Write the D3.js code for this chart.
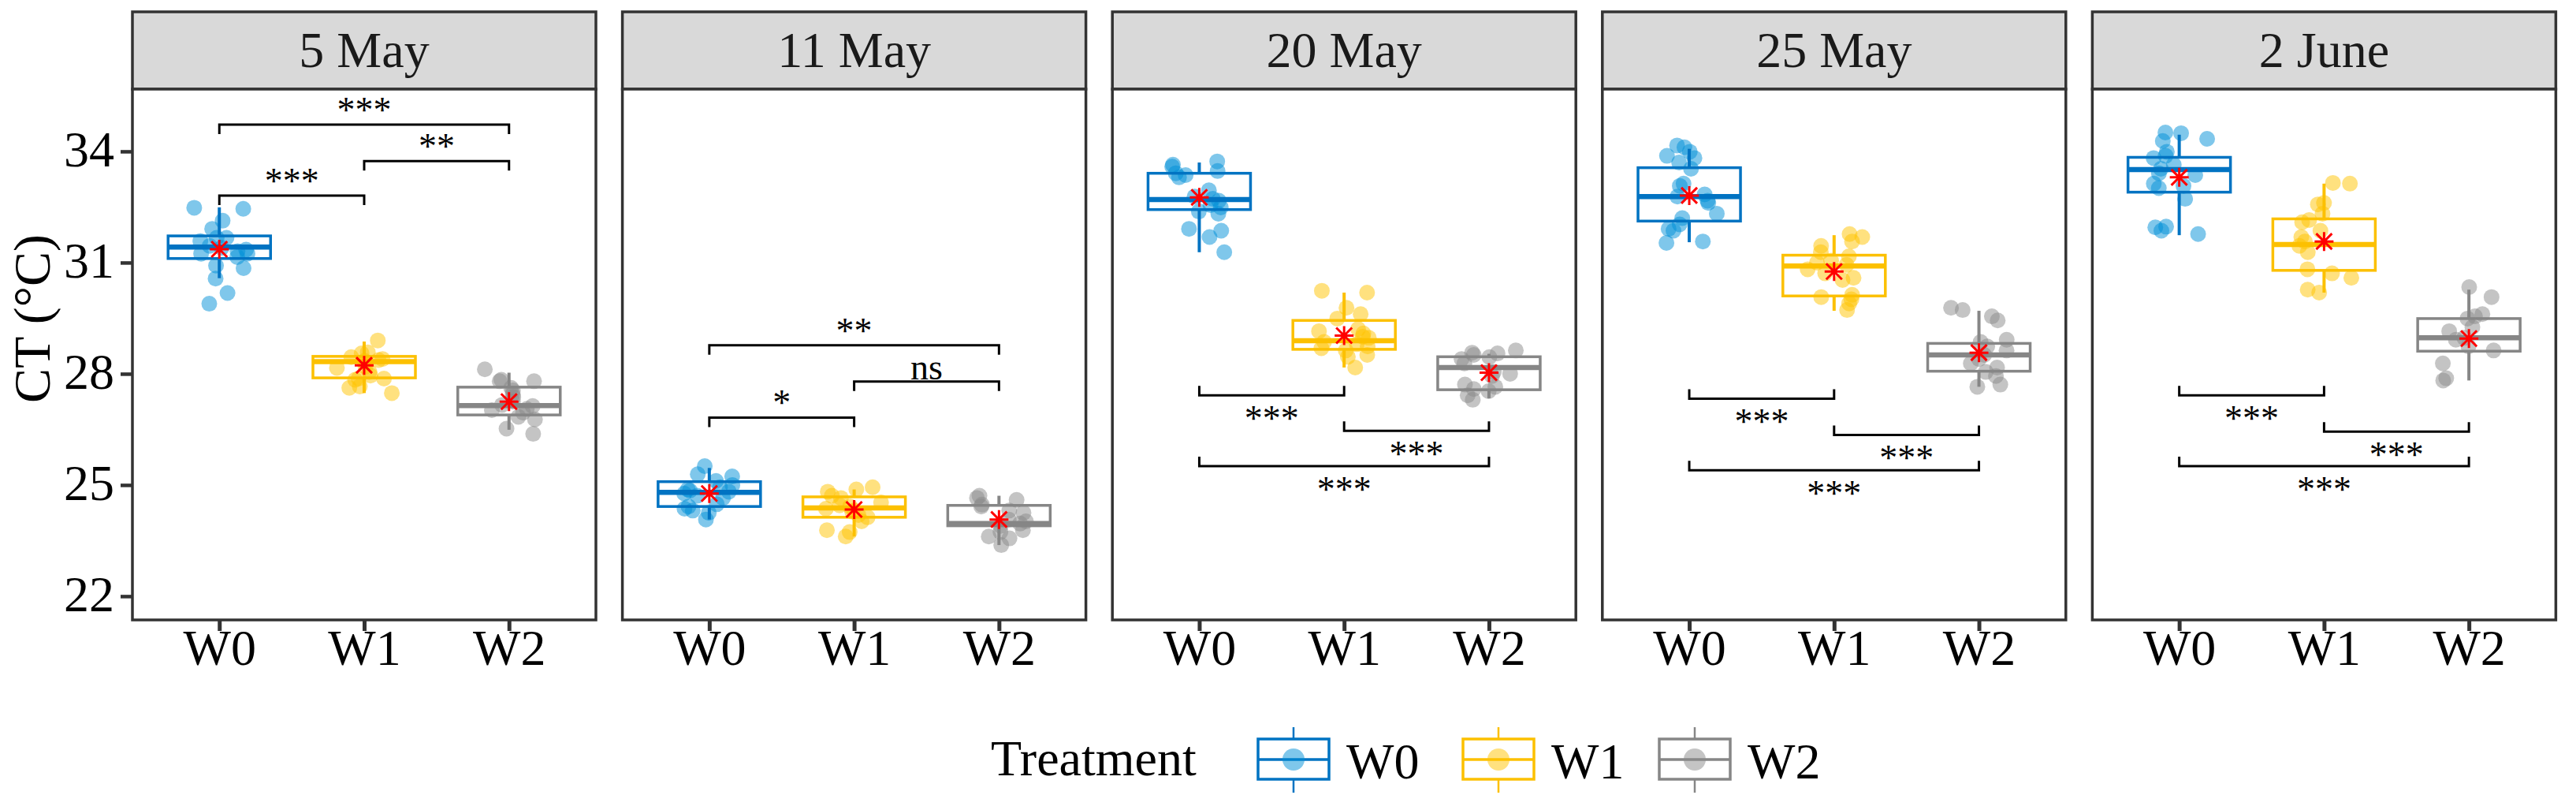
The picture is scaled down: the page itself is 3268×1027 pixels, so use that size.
<!DOCTYPE html>
<html><head><meta charset="utf-8">
<script src="https://cdn.jsdelivr.net/npm/d3@7"></script>
<style>
body{margin:0;background:#fff}
svg{display:block}
text{font-family:"Liberation Serif","Times New Roman",Times,serif}
</style>
</head><body>
<svg id="chart" width="3268" height="1027"></svg>
<script>
// ---------------- data ----------------
const dates = ["5 May", "11 May", "20 May", "25 May", "2 June"];
const treatments = ["W0", "W1", "W2"];
const yTicks = [22, 25, 28, 31, 34];
const yTitle = "CT (°C)";
const legendTitle = "Treatment";

// box stats per date: [lower whisker, Q1, median, Q3, upper whisker]
const boxW0 = [[30.58,31.11,31.42,31.72,32.49],[24.07,24.42,24.80,25.09,25.46],[31.28,32.43,32.70,33.41,33.70],[31.55,32.12,32.78,33.56,34.07],[31.74,32.90,33.51,33.84,34.45]];
const boxW1 = [[27.48,27.89,28.33,28.47,28.87],[23.61,24.13,24.38,24.68,24.88],[28.17,28.66,28.89,29.44,30.19],[29.70,30.10,30.91,31.20,31.74],[30.19,30.79,31.49,32.18,33.13]];
const boxW2 = [[26.49,26.89,27.14,27.64,28.03],[23.38,23.90,23.96,24.45,24.71],[27.34,27.57,28.17,28.46,28.54],[27.65,28.07,28.51,28.82,29.70],[27.82,28.61,28.97,29.49,30.27]];

// group means per date
const meanW0 = [31.36, 24.77, 32.76, 32.81, 33.30];
const meanW1 = [28.23, 24.34, 29.03, 30.76, 31.57];
const meanW2 = [27.25, 24.07, 28.03, 28.57, 28.95];

// individual observations per date
const pointsW0 = [
  [32.45,32.48,32.13,31.91,31.67,31.67,31.58,31.45,31.40,31.35,31.31,31.24,31.24,31.15,30.92,30.85,30.57,30.18,29.89],
  [25.51,25.29,25.23,25.11,25.00,24.94,24.88,24.82,24.77,24.71,24.65,24.48,24.42,24.36,24.31,24.25,24.07,24.85],
  [33.73,33.64,33.59,33.47,33.41,33.36,33.30,32.95,32.78,32.72,32.67,32.55,32.49,32.38,32.32,31.91,31.86,31.69,31.28],
  [34.16,34.11,33.99,33.88,33.82,33.70,33.53,33.13,33.07,32.84,32.78,32.67,32.61,32.32,32.20,32.03,31.91,31.86,31.57,31.53],
  [34.51,34.49,34.34,34.28,33.99,33.88,33.82,33.64,33.53,33.41,33.36,33.13,33.07,33.01,32.72,31.97,31.95,31.86,31.77]
];
const pointsW1 = [
  [28.90,28.58,28.55,28.45,28.40,28.37,28.35,28.30,28.19,28.16,28.05,27.95,27.87,27.87,27.84,27.66,27.62,27.48],
  [24.94,24.88,24.82,24.71,24.65,24.53,24.42,24.36,24.31,24.19,24.13,24.02,23.78,23.73,23.61,24.45,24.28],
  [30.24,30.19,29.78,29.61,29.49,29.21,29.15,29.09,28.97,28.86,28.74,28.69,28.63,28.51,28.46,28.17,29.00,28.80],
  [31.77,31.69,31.57,31.45,31.28,31.17,31.05,30.94,30.82,30.71,30.59,30.53,30.13,30.07,30.01,29.90,29.72,31.00],
  [33.15,33.13,32.61,32.57,32.32,32.15,32.09,31.86,31.69,31.57,31.45,31.28,30.82,30.71,30.59,30.27,30.19]
];
const pointsW2 = [
  [28.12,27.84,27.80,27.80,27.62,27.55,27.45,27.37,27.25,27.16,27.13,27.05,27.02,26.95,26.84,26.77,26.52,26.38],
  [24.71,24.65,24.60,24.47,24.42,24.31,24.25,24.07,24.02,23.96,23.90,23.78,23.73,23.61,23.56,23.38],
  [28.63,28.57,28.51,28.40,28.28,28.05,28.00,27.94,27.71,27.65,27.59,27.53,27.42,27.30,28.55,28.45],
  [29.78,29.72,29.55,29.44,28.92,28.86,28.74,28.63,28.51,28.40,28.28,28.17,28.05,27.94,27.71,27.65],
  [30.34,30.07,29.61,29.55,29.49,29.26,29.15,28.97,28.92,28.74,28.63,28.28,27.88,27.82]
];

// significance brackets: [panel, fromGroup, toGroup, y value, label, side(1 above / -1 below)]
const signif = [
  [0,"W0","W1",32.81,"***",1],[0,"W1","W2",33.74,"**",1],[0,"W0","W2",34.72,"***",1],
  [1,"W0","W2",28.77,"**",1],[1,"W1","W2",27.79,"ns",1],[1,"W0","W1",26.82,"*",1],
  [2,"W0","W1",27.42,"***",-1],[2,"W1","W2",26.46,"***",-1],[2,"W0","W2",25.51,"***",-1],
  [3,"W0","W1",27.33,"***",-1],[3,"W1","W2",26.35,"***",-1],[3,"W0","W2",25.40,"***",-1],
  [4,"W0","W1",27.42,"***",-1],[4,"W1","W2",26.44,"***",-1],[4,"W0","W2",25.51,"***",-1]
];

// ---------------- layout / style ----------------
const boxes = {W0: boxW0, W1: boxW1, W2: boxW2};
const means = {W0: meanW0, W1: meanW1, W2: meanW2};
const points = {W0: pointsW0, W1: pointsW1, W2: pointsW2};
const lineCol = {W0: "#0073C2", W1: "#FCC000", W2: "#868686"};
const ptCol = {W0: "#0090D8", W1: "#FFC400", W2: "#8A8A8A"};

const panelLeft0 = 168, panelStep = 621.6, panelW = 588;
const stripTop = 15, panelTop = 113, panelBottom = 786;
const border = "#333333";

const svg = d3.select("#chart");
const y = d3.scaleLinear().domain([21.36, 35.68]).range([panelBottom, panelTop]);
const x = d3.scalePoint().domain(treatments).range([0, panelW]).padding(0.6);

function jitter(i, k) {
  const v = Math.sin((i + 1) * 12.9898 + k * 78.233) * 43758.5453;
  return (v - Math.floor(v)) - 0.5;
}

function asterisk(g, cx, cy, color) {
  const a = 12, d = 10;
  g.append("path")
    .attr("d", `M${cx},${cy-a}L${cx},${cy+a}M${cx-a},${cy}L${cx+a},${cy}M${cx-d},${cy-d}L${cx+d},${cy+d}M${cx-d},${cy+d}L${cx+d},${cy-d}`)
    .attr("stroke", color).attr("stroke-width", 3).attr("fill", "none");
}

dates.forEach((date, pi) => {
  const left = panelLeft0 + pi * panelStep;
  const g = svg.append("g").attr("transform", `translate(${left},0)`);

  // strip
  g.append("rect").attr("x", 0).attr("y", stripTop).attr("width", panelW).attr("height", panelTop - stripTop)
    .attr("fill", "#D9D9D9").attr("stroke", border).attr("stroke-width", 3.5);
  g.append("text").attr("x", panelW / 2).attr("y", 85).attr("text-anchor", "middle")
    .attr("font-size", 64).attr("fill", "#1A1A1A").text(date);

  // panel background
  g.append("rect").attr("x", 0).attr("y", panelTop).attr("width", panelW).attr("height", panelBottom - panelTop)
    .attr("fill", "#fff");

  treatments.forEach((t, ti) => {
    const cx = x(t);
    // jittered points
    g.append("g").selectAll("circle").data(points[t][pi]).join("circle")
      .attr("cx", (d, i) => cx + jitter(i, pi * 3 + ti) * 72)
      .attr("cy", d => y(d))
      .attr("r", 10)
      .attr("fill", ptCol[t]).attr("fill-opacity", 0.5);

    // box
    const [lo, q1, med, q3, hi] = boxes[t][pi];
    const bw = 130;
    const bg = g.append("g").attr("stroke", lineCol[t]).attr("fill", "none");
    bg.append("line").attr("x1", cx).attr("x2", cx).attr("y1", y(hi)).attr("y2", y(q3)).attr("stroke-width", 4);
    bg.append("line").attr("x1", cx).attr("x2", cx).attr("y1", y(q1)).attr("y2", y(lo)).attr("stroke-width", 4);
    bg.append("rect").attr("x", cx - bw / 2).attr("width", bw).attr("y", y(q3)).attr("height", y(q1) - y(q3))
      .attr("stroke-width", 3.5);
    bg.append("line").attr("x1", cx - bw / 2).attr("x2", cx + bw / 2).attr("y1", y(med)).attr("y2", y(med))
      .attr("stroke-width", 6.5);

    // mean
    asterisk(g, cx, y(means[t][pi]), "#FF0000");
  });

  // significance brackets
  signif.filter(s => s[0] === pi).forEach(([p, a, b, yv, lab, side]) => {
    const x1 = x(a), x2 = x(b), yy = y(yv), tip = 12 * side;
    g.append("path")
      .attr("d", `M${x1},${yy + tip}L${x1},${yy}L${x2},${yy}L${x2},${yy + tip}`)
      .attr("stroke", "#000").attr("stroke-width", 3).attr("fill", "none");
    g.append("text").attr("x", (x1 + x2) / 2)
      .attr("y", side > 0 ? yy - 3 : yy + 45)
      .attr("text-anchor", "middle").attr("font-size", 46).attr("fill", "#000").text(lab);
  });

  // panel border
  g.append("rect").attr("x", 0).attr("y", panelTop).attr("width", panelW).attr("height", panelBottom - panelTop)
    .attr("fill", "none").attr("stroke", border).attr("stroke-width", 3.5);

  // x axis
  const xa = g.append("g").attr("transform", `translate(0,${panelBottom})`)
    .call(d3.axisBottom(x).tickSize(14).tickPadding(0));
  xa.select(".domain").remove();
  xa.selectAll("line").attr("stroke", border).attr("stroke-width", 5);
  xa.selectAll("text").attr("y", 57).attr("dy", 0).attr("font-size", 64).attr("fill", "#000")
    .attr("font-family", '"Liberation Serif","Times New Roman",serif');

  // y axis on first panel
  if (pi === 0) {
    const ya = g.append("g").call(d3.axisLeft(y).tickValues(yTicks).tickSize(15).tickPadding(8));
    ya.select(".domain").remove();
    ya.selectAll("line").attr("stroke", border).attr("stroke-width", 4.5);
    ya.selectAll("text").attr("dy", 19).attr("font-size", 64).attr("fill", "#000")
      .attr("font-family", '"Liberation Serif","Times New Roman",serif');
  }
});

// y title
svg.append("text").attr("transform", "translate(63,404) rotate(-90)").attr("text-anchor", "middle")
  .attr("font-size", 66).attr("fill", "#000").text(yTitle);

// legend
svg.append("text").attr("x", 1257).attr("y", 983).attr("font-size", 64).attr("fill", "#000").text(legendTitle);
const keyX = [1596, 1856, 2105];
treatments.forEach((t, i) => {
  const kx = keyX[i], kw = 90, ky0 = 937, ky1 = 988, kc = kx + kw / 2, km = 963;
  const kg = svg.append("g");
  kg.append("line").attr("x1", kc).attr("x2", kc).attr("y1", 922).attr("y2", ky0).attr("stroke", lineCol[t]).attr("stroke-width", 2.5);
  kg.append("line").attr("x1", kc).attr("x2", kc).attr("y1", ky1).attr("y2", 1005).attr("stroke", lineCol[t]).attr("stroke-width", 2.5);
  kg.append("rect").attr("x", kx).attr("y", ky0).attr("width", kw).attr("height", ky1 - ky0)
    .attr("fill", "#fff").attr("stroke", lineCol[t]).attr("stroke-width", 3.5);
  kg.append("line").attr("x1", kx).attr("x2", kx + kw).attr("y1", km).attr("y2", km).attr("stroke", lineCol[t]).attr("stroke-width", 3.5);
  kg.append("ellipse").attr("cx", kc).attr("cy", km).attr("rx", 14).attr("ry", 14)
    .attr("fill", ptCol[t]).attr("fill-opacity", 0.5);
  svg.append("text").attr("x", kx + kw + 22).attr("y", 987).attr("font-size", 64).attr("fill", "#000").text(t);
});
</script>
</body></html>
